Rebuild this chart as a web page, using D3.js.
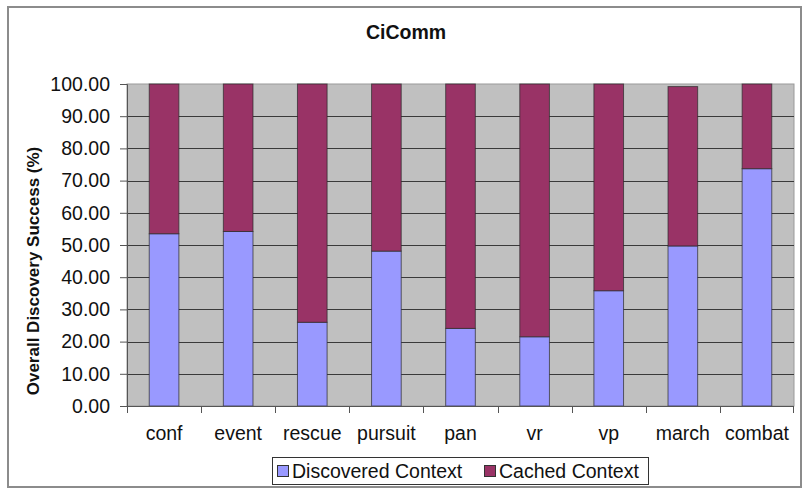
<!DOCTYPE html>
<html>
<head>
<meta charset="utf-8">
<script src="https://cdn.jsdelivr.net/npm/d3@7"></script>
<style>
  body { margin: 0; background: #fff; }
  svg { display: block; font-family: Arial, "Liberation Sans", sans-serif; }
</style>
</head>
<body>
<script>
// DATA
const categories = ["conf", "event", "rescue", "pursuit", "pan", "vr", "vp", "march", "combat"];
const discovered = [53.5, 54.2, 26.0, 48.1, 24.1, 21.5, 35.8, 49.7, 73.7];
const cached = [46.5, 45.8, 74.0, 51.9, 75.9, 78.5, 64.2, 49.5, 26.3];
const yTicks = [0, 10, 20, 30, 40, 50, 60, 70, 80, 90, 100];
const seriesNames = ["Discovered Context", "Cached Context"];
const colors = ["#9999ff", "#993366"];

// FRAME
const W = 805, H = 490;
const plot = { left: 127, right: 794, top: 84, bottom: 406 };

const svg = d3.select("body").append("svg")
    .attr("width", W)
    .attr("height", H);

// outer chart border
svg.append("rect")
    .attr("x", 8).attr("y", 7)
    .attr("width", 793).attr("height", 480)
    .attr("fill", "#fff")
    .attr("stroke", "#8c8c8c")
    .attr("stroke-width", 2);

// title
svg.append("text")
    .attr("x", 406).attr("y", 39)
    .attr("text-anchor", "middle")
    .attr("font-size", 19.5)
    .attr("font-weight", "bold")
    .attr("fill", "#111")
    .text("CiComm");

// SCALES
const x = d3.scaleBand()
    .domain(categories)
    .range([plot.left, plot.right])
    .paddingInner(0.6)
    .paddingOuter(0.3);

const xOuter = d3.scaleBand()
    .domain(categories)
    .range([plot.left, plot.right]);

const y = d3.scaleLinear()
    .domain([0, 100])
    .range([plot.bottom, plot.top]);

// plot background
svg.append("rect")
    .attr("x", plot.left).attr("y", plot.top)
    .attr("width", plot.right - plot.left)
    .attr("height", plot.bottom - plot.top)
    .attr("fill", "#c0c0c0")
    .attr("stroke", "#9a9a9a")
    .attr("stroke-width", 1);

// gridlines
svg.append("g")
    .selectAll("line")
    .data(yTicks.filter(d => d > 0 && d < 100))
    .enter()
    .append("line")
    .attr("x1", plot.left).attr("x2", plot.right)
    .attr("y1", d => Math.round(y(d)) + 0.5)
    .attr("y2", d => Math.round(y(d)) + 0.5)
    .attr("stroke", "#3a3a3a")
    .attr("stroke-width", 1);

// BARS
const stacked = categories.map((c, i) => ({ cat: c, vals: [discovered[i], cached[i]] }));
const barG = svg.append("g");
stacked.forEach(d => {
  let base = 0;
  d.vals.forEach((v, s) => {
    barG.append("rect")
        .attr("x", x(d.cat))
        .attr("width", x.bandwidth())
        .attr("y", y(base + v))
        .attr("height", y(base) - y(base + v))
        .attr("fill", colors[s])
        .attr("stroke", "#2a2a2a")
        .attr("stroke-opacity", 0.7)
        .attr("stroke-width", 1);
    base += v;
  });
});

// Y AXIS
const yAxis = svg.append("g")
    .attr("transform", `translate(${plot.left},0)`)
    .call(d3.axisLeft(y).tickValues(yTicks).tickSize(7).tickPadding(10).tickFormat(d3.format(".2f")));
yAxis.select(".domain").attr("stroke", "#555");
yAxis.selectAll(".tick line").attr("stroke", "#555");
yAxis.selectAll("text")
    .attr("font-size", 19.5)
    .attr("font-family", "Arial, 'Liberation Sans', sans-serif")
    .attr("fill", "#111");

// X AXIS
const xAxisG = svg.append("g");
xAxisG.append("line")
    .attr("x1", plot.left).attr("x2", plot.right)
    .attr("y1", plot.bottom + 0.5).attr("y2", plot.bottom + 0.5)
    .attr("stroke", "#555");
xAxisG.selectAll(".xtick")
    .data(categories)
    .enter()
    .append("line")
    .attr("x1", d => Math.round(xOuter(d)) + 0.5)
    .attr("x2", d => Math.round(xOuter(d)) + 0.5)
    .attr("y1", plot.bottom).attr("y2", plot.bottom + 7)
    .attr("stroke", "#555");
xAxisG.append("line")
    .attr("x1", plot.right - 0.5).attr("x2", plot.right - 0.5)
    .attr("y1", plot.bottom).attr("y2", plot.bottom + 7)
    .attr("stroke", "#555");
xAxisG.selectAll("text")
    .data(categories)
    .enter()
    .append("text")
    .attr("x", d => xOuter(d) + xOuter.bandwidth() / 2)
    .attr("y", 440)
    .attr("text-anchor", "middle")
    .attr("font-size", 19.5)
    .attr("fill", "#111")
    .text(d => d);

// Y AXIS TITLE
svg.append("text")
    .attr("transform", "translate(39,271) rotate(-90)")
    .attr("text-anchor", "middle")
    .attr("font-size", 17)
    .attr("font-weight", "bold")
    .attr("fill", "#111")
    .text("Overall Discovery Success (%)");

// LEGEND
const legend = svg.append("g");
legend.append("rect")
    .attr("x", 272.5).attr("y", 457.5)
    .attr("width", 376).attr("height", 27)
    .attr("fill", "#fff")
    .attr("stroke", "#333");
const legendX = [277, 484];
seriesNames.forEach((name, i) => {
  legend.append("rect")
      .attr("x", legendX[i] + 0.5).attr("y", 465.5)
      .attr("width", 11).attr("height", 11)
      .attr("fill", colors[i])
      .attr("stroke", "#333");
  legend.append("text")
      .attr("x", legendX[i] + 15).attr("y", 478)
      .attr("font-size", 19.5)
      .attr("fill", "#111")
      .text(name);
});
</script>
</body>
</html>
